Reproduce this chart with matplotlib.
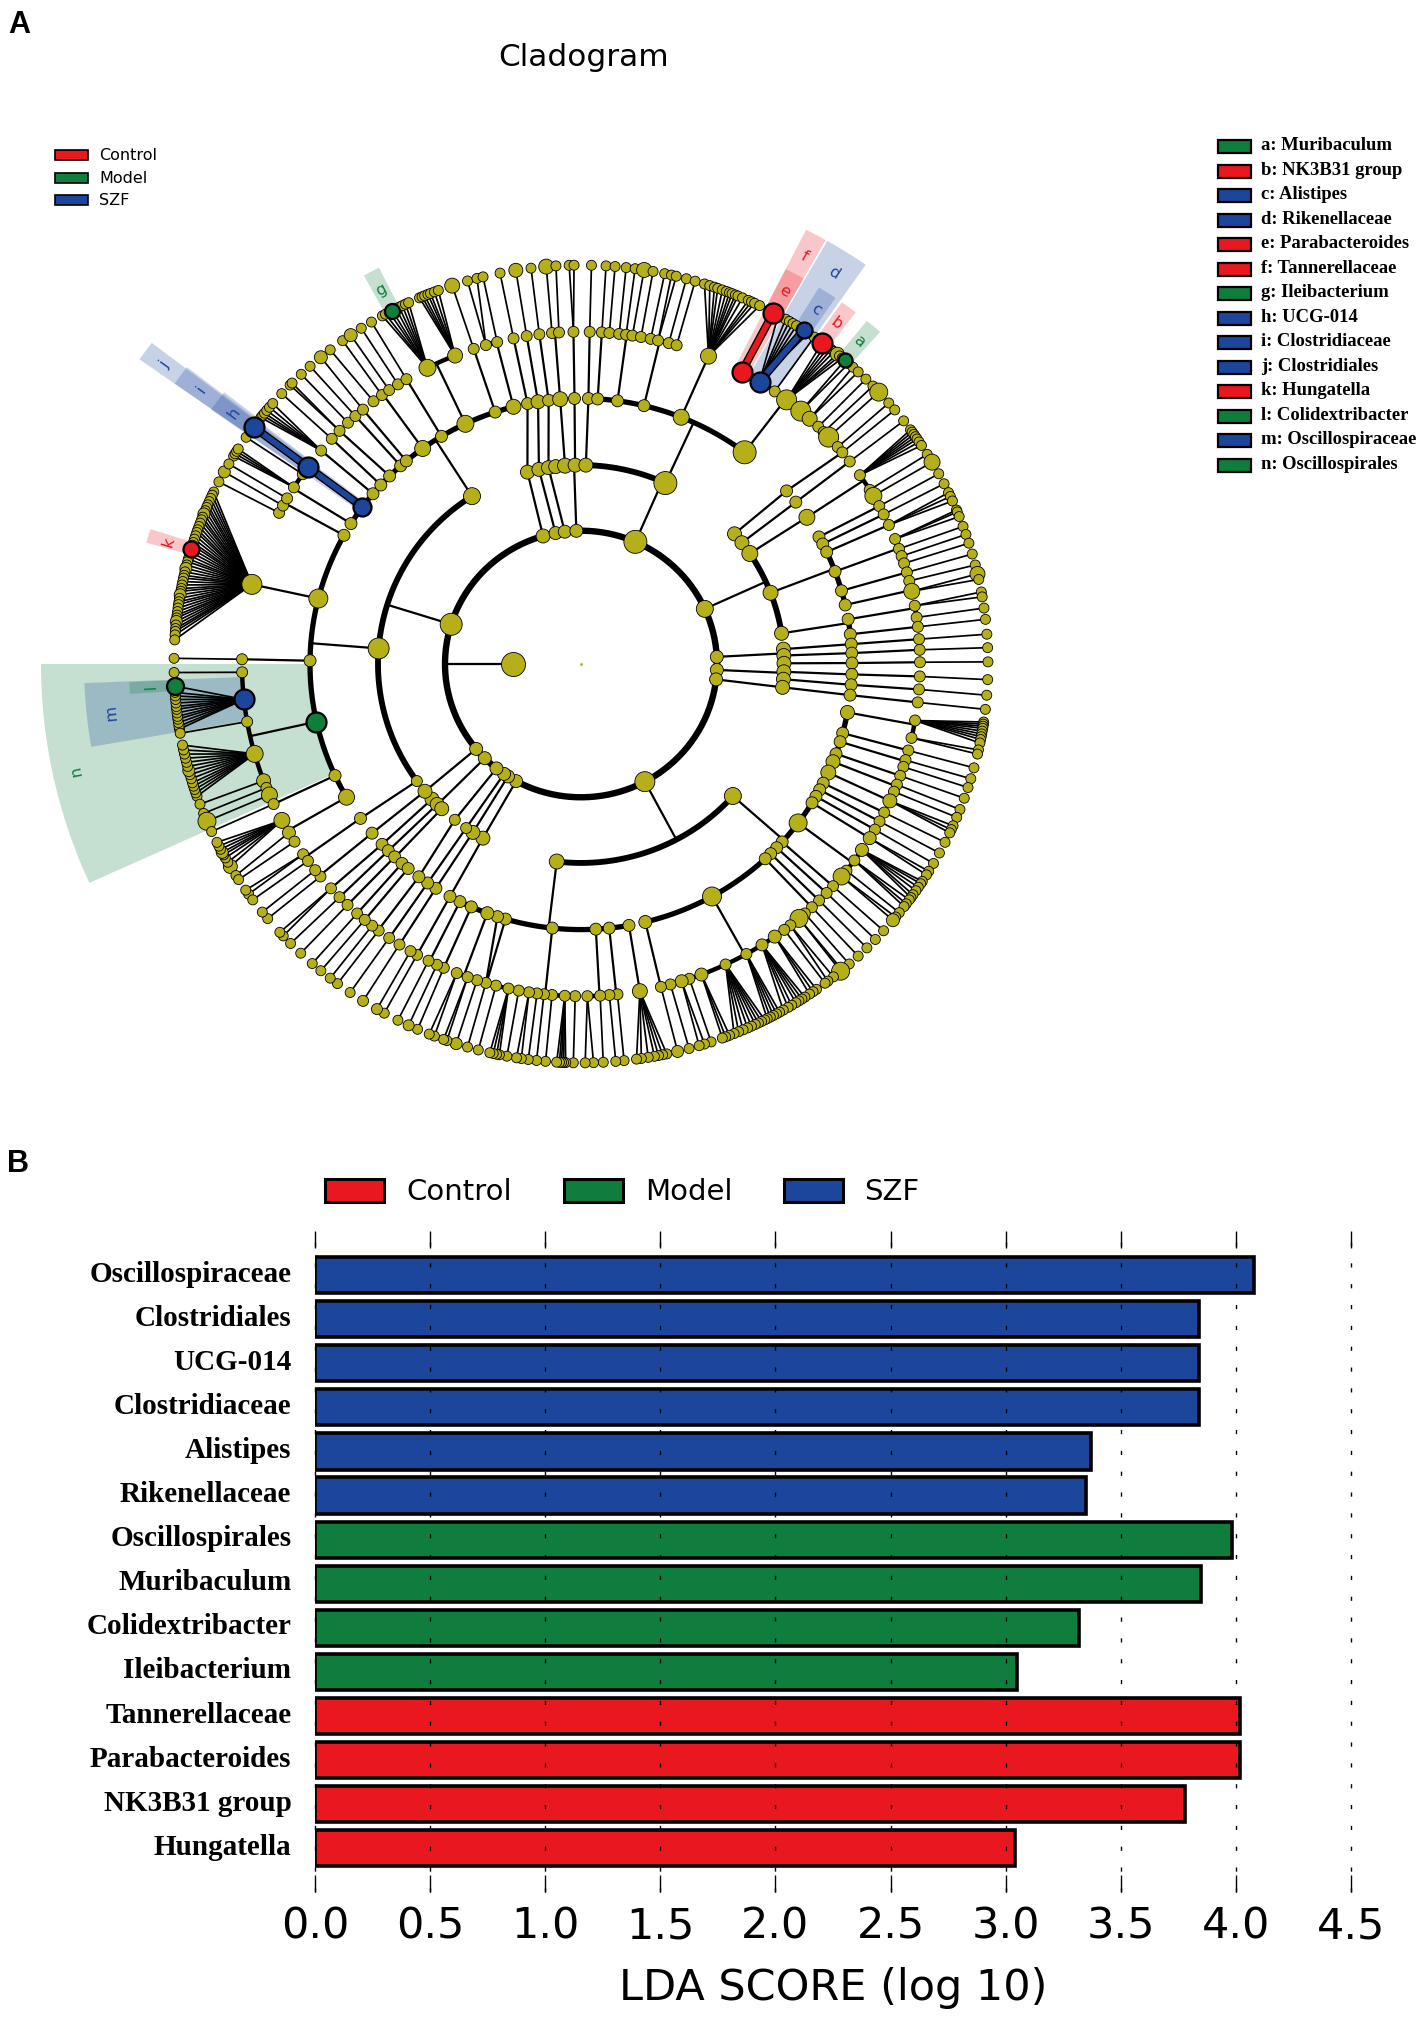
#!/usr/bin/env python3

""" LEfSe cladogram and LDA score bars """

import numpy as np
import matplotlib
matplotlib.use("Agg")
import matplotlib.pyplot as plt
from matplotlib.patches import Rectangle, Wedge

RED = '#E9181E'
GREEN = '#0F7D3C'
BLUE = '#1C469C'
OLIVE = '#B5B01A'

# panel B values
bar_names = ['Oscillospiraceae', 'Clostridiales', 'UCG-014', 'Clostridiaceae', 'Alistipes',
             'Rikenellaceae', 'Oscillospirales', 'Muribaculum', 'Colidextribacter',
             'Ileibacterium', 'Tannerellaceae', 'Parabacteroides', 'NK3B31 group', 'Hungatella']
bar_scores = [4.08, 3.84, 3.84, 3.84, 3.37, 3.35, 3.985, 3.85, 3.32, 3.05, 4.02, 4.02, 3.78, 3.04]
bar_groups = ['SZF'] * 6 + ['Model'] * 4 + ['Control'] * 4
x_ticks = [0.0, 0.5, 1.0, 1.5, 2.0, 2.5, 3.0, 3.5, 4.0, 4.5]

group_names = ['Control', 'Model', 'SZF']
group_colors = {'Control': RED, 'Model': GREEN, 'SZF': BLUE}

clade_labels = ['a: Muribaculum', 'b: NK3B31 group', 'c: Alistipes', 'd: Rikenellaceae',
                'e: Parabacteroides', 'f: Tannerellaceae', 'g: Ileibacterium', 'h: UCG-014',
                'i: Clostridiaceae', 'j: Clostridiales', 'k: Hungatella', 'l: Colidextribacter',
                'm: Oscillospiraceae', 'n: Oscillospirales']
clade_label_colors = [GREEN, RED, BLUE, BLUE, RED, RED, GREEN, BLUE, BLUE, BLUE, RED, GREEN, BLUE, GREEN]

# cladogram: every node is an angle in degrees, children listed by parent angle
l1_nodes = [180]
l2_nodes = [163, 106.5, 101, 97, 92, 66, 24, 3, -2.5, -6.5, -61.5, -119, -123, -125, -129, -135.6, -141]

l3_by_l2 = {
    163: [123, 175.6, -144.5], 106.5: [105.6], 101: [102.2], 97: [99.4], 92: [97.3, 94.6, 91.7],
    66: [88.6, 65], 24: [40.3, 37, 33.2, 20.6, 8.7], 3: [4.2, 2.4, 0.2], -2.5: [-2.2, -4.3],
    -6.5: [-6.6], -61.5: [-41, -97], -119: [-119.4], -123: [-122.7], -125: [-125], -129: [-129],
    -135.6: [-137.8, -135.7, -133.9], -141: [-140.8],
}

l4_by_l3 = {
    123: [148.6, 144.3, 140.7, 138.2, 135.5, 132.3, 130.7, 126.3, 121.5, 115.7, 108.8, 104.7],
    175.6: [151.5, 166, 179.3, -167.7, -155.6, -150.4],
    -144.5: [-145], 105.6: [101.6], 102.2: [99.3], 99.4: [97], 94.6: [94.5], 91.7: [91.4], 88.6: [88.4],
    65: [86.4, 82.1, 76.3, 67.9, 52.3],
    40.3: [40.1], 37: [37], 33.2: [33], 20.6: [28.1, 26.4, 24.5, 20, 15.7, 12.6], 8.7: [9.5, 6.3],
    4.2: [4.2], 2.4: [2.3], 0.2: [0.2], -2.2: [-2.2], -4.3: [-4.4], -6.6: [-6.6],
    -41: [-10.3, -14.8, -16.7, -19.4, -21.2, -23.7, -26.2, -27.8, -29.4, -31, -36.2, -41.5, -43.2,
          -45, -46.6, -60.6, -76],
    -97: [-79.6, -83.9, -86.8, -96.2, -106.5, -108.3, -110.6, -114.3, -117],
    -119.4: [-119.4], -122.7: [-122.9], -125: [-125], -129: [-127.3], -137.8: [-137.8],
    -135.7: [-135.9], -133.9: [-134, -131.9, -130.2], -140.8: [-141],
}

l5_by_l4 = {
    148.6: [148.4, 145.7], 144.3: [144.2], 140.7: [140.6], 138.2: [137.9], 135.5: [136],
    132.3: [134, 132.3], 130.7: [130.6], 126.3: [128.3, 126.5, 125, 123.2], 121.5: [121.5],
    115.7: [117.4, 112.2], 108.8: [108.8], 104.7: [106.6, 104.6],
    151.5: [153.4, 152, 150.6], 166: [166.4], 179.3: [179.2],
    -167.7: [-178.6, -174, -170.2, -164.6, -159.8, -158.5, -157.2], -155.6: [-155.5],
    -150.4: [-152.4, -150, -148.2], -145: [-145.6, -144.2],
    101.6: [101.7], 99.3: [99.4], 97: [97.2], 94.5: [95, 93.8], 91.4: [91.3], 88.4: [88.5],
    86.4: [86.4, 85.1], 82.1: [83.4, 82.2, 81.1, 79.6], 76.3: [77.9, 76.6, 74.7, 73.3], 67.9: [67.5],
    52.3: [61.2, 57.7, 54.6, 52.1, 49, 47, 45, 43.7, 42.5, 40.2],
    40.1: [39], 37: [37], 33: [34.1, 31.1, 29.9], 28.1: [27.9], 26.4: [26.3], 24.5: [24.3],
    20: [21.7, 19.9, 18.6, 17.3], 15.7: [15.7], 12.6: [14.2, 12.4], 9.5: [9.9, 7.9], 6.3: [6.3],
    4.2: [4.2], 2.3: [2.4], 0.2: [0.3], -2.2: [-2.1], -4.4: [-4.3], -6.6: [-6.5],
    -10.3: [-9.6, -12.6], -14.8: [-14.8], -16.7: [-16.5, -17.7], -19.4: [-19.3], -21.2: [-20.9, -22.2],
    -23.7: [-23.9], -26.2: [-26.1], -27.8: [-27.8], -29.4: [-29.4], -31: [-31.1],
    -36.2: [-33.5, -35.7, -37.9, -39.2], -41.5: [-41.4], -43.2: [-43], -45: [-44.8], -46.6: [-46.5],
    -60.6: [-48.1, -49.4, -51.3, -52.6, -54.6, -57.2, -60.3, -64.3, -68.8, -71, -72.4, -74.4],
    -76: [-76.1], -79.6: [-79.8], -83.9: [-83.7, -85.1], -86.8: [-86.7, -88.9],
    -96.2: [-91, -92.8, -95, -96.4, -97.6, -99, -100.8], -106.5: [-102.6, -104.8], -108.3: [-106.6],
    -110.6: [-108.2, -109.9, -111.9], -114.3: [-114.3], -117: [-115.6, -117.2],
    -119.4: [-119.4, -120.7], -122.9: [-122.9], -125: [-125], -127.3: [-127.2, -128.6],
    -137.8: [-138.1], -135.9: [-136], -134: [-134.1], -131.9: [-131.9], -130.2: [-130.2],
    -141: [-140.8, -142.2],
}

l6_by_l5 = {
    148.4: [149.1, 148.7, 148.3, 147.9], 145.7: [145.9], 144.2: [144.1],
    140.6: [142.4, 142, 141.6, 141.1, 140.5, 139.8], 137.9: [137.9], 136: [136.2, 135.8], 134: [134],
    132.3: [132.3], 130.6: [130.3], 128.3: [128.6], 126.5: [126.4], 125: [125], 123.2: [123.2],
    121.5: [121.5], 117.4: [119.7, 119.2, 118.6, 118.1, 117.5, 117, 116.5, 116, 115.5],
    112.2: [113.8, 113.4, 113, 112.5, 112.1, 111.5, 110.9], 108.8: [108.8], 106.6: [106.5, 105.1],
    104.6: [104.2], 153.4: [153.3], 152: [151.7], 150.6: [150.4],
    166.4: [154.9, 155.4, 155.9, 156.4, 156.9, 157.3, 157.8, 158.3, 158.8, 159.2, 159.7, 160.2, 160.7,
            161.1, 161.6, 162.1, 162.6, 163, 163.5, 164, 164.5, 165, 165.4, 165.9, 166.4, 166.9, 167.4,
            167.8, 168.3, 168.8, 169.3, 169.7, 170.2, 170.7, 171.2, 171.6, 172.1, 172.6, 173.1, 173.5,
            174, 174.5, 175, 175.4, 175.9, 176.6],
    179.2: [179.2], -178.6: [-178.8],
    -174: [-170.8, -171.2, -171.7, -172.2, -172.6, -173.1, -173.6, -174, -174.5, -175, -175.5, -176, -176.9],
    -170.2: [-170.2],
    -164.6: [-161, -161.5, -162, -162.5, -163, -163.6, -164.2, -164.8, -165.4, -166, -166.6, -167.2,
             -167.8, -168.5],
    -159.8: [-159.8], -158.5: [-158.4], -157.2: [-157.2], -155.5: [-155.6],
    -152.4: [-150, -150.7, -151.4, -151.9, -152.3, -152.8, -153.3, -153.9], -150: [-148.5],
    -148.2: [-147.8], -145.6: [-145.3, -146], -144.2: [-144.3],
    101.7: [101.7], 99.4: [99.4], 97.2: [97.2], 95: [95], 93.8: [93.6], 91.3: [91.7, 91], 88.5: [88.5],
    86.4: [86.4], 85.1: [85.1], 83.4: [83.5], 82.2: [82.2], 81.1: [80.9], 79.6: [79.6], 77.9: [77.9],
    76.6: [76.9, 76.2], 74.7: [74.7], 73.3: [73.4],
    67.5: [72, 71.2, 70.5, 70, 69.3, 68.7, 68.2, 67.8, 67.3, 66.9, 66.2, 65.3, 64.8, 64.3, 63.5],
    61.2: [61.3], 57.7: [60.5, 59.3, 58.7, 58.1, 57.5, 56.3, 55.5], 54.6: [54.5],
    52.1: [53.1, 52.5, 52, 51.5, 51, 50.4, 50, 49.5], 49: [49, 48.3], 47: [47.5, 46.5], 45: [45],
    43.7: [43.6], 42.5: [42.4], 40.2: [40.3], 39: [39], 37: [37],
    34.1: [35.4, 35, 34.6, 34.2, 33.8, 33.3, 32.7], 31.1: [31.2], 29.9: [29.9], 27.9: [28], 26.3: [26.4],
    24.3: [25, 24.4, 23.7], 21.7: [22.3, 22, 21.3], 19.9: [19.8], 18.6: [18.6], 17.3: [17.3], 15.7: [15.7],
    14.2: [14.1], 12.4: [12.8, 12], 9.9: [10.2, 9.5], 7.9: [7.9], 6.3: [6.3], 4.2: [4.2], 2.4: [2.3],
    0.3: [0.3], -2.1: [-2.2], -4.3: [-4.4], -6.5: [-6.4],
    -9.6: [-8.2, -8.5, -8.8, -9.1, -9.5, -9.9, -10.3, -10.7, -11.2], -12.6: [-12.2, -12.8], -14.8: [-14.8],
    -16.5: [-16.4], -17.7: [-17.7], -19.3: [-19.3], -20.9: [-21], -22.2: [-22.2], -23.9: [-23.5, -24.1, -24.6],
    -26.1: [-26.1], -27.8: [-27.8], -29.4: [-29.5], -31.1: [-30.8, -31.4],
    -33.5: [-32.5, -32.9, -33.5, -34.1, -34.8, -35.3], -35.7: [-35.7, -36.4, -36.9], -37.9: [-38],
    -39.2: [-38.8, -39.4], -41.4: [-41.4], -43: [-43.1], -44.8: [-44.8], -46.5: [-46.5], -48.1: [-48.2],
    -49.4: [-49.5, -49.8], -51.3: [-51.1, -52.1], -52.6: [-52.6], -54.6: [-54.1, -54.7, -55.3],
    -57.2: [-56.1, -56.6, -57.1, -57.6, -58.3, -58.9, -59.7], -60.3: [-60.3, -60.8, -61.3, -61.8, -62.3],
    -64.3: [-62.7, -63.2, -63.7, -64.2, -64.8, -65.4, -66.1, -66.8, -67.5], -68.8: [-68.2, -68.8, -69.3],
    -71: [-71], -72.4: [-72, -72.8], -74.4: [-74.3], -76.1: [-76],
    -79.8: [-77.6, -78.2, -78.8, -79.4, -80.3, -81.3, -82], -83.7: [-83.8], -85.1: [-85], -86.7: [-86.8],
    -88.9: [-88.2, -89.4], -91: [-91.1], -92.8: [-92.2, -92.5, -92.8, -93.1, -93.5], -95: [-95.1],
    -96.4: [-96.4], -97.6: [-97.6], -99: [-98.6, -99.3], -100.8: [-100.7], -102.6: [-101.8, -102.2, -102.7, -103.2],
    -104.8: [-104.9], -106.6: [-106.5], -108.2: [-108.2], -109.9: [-109.6, -110.1], -111.9: [-111.5, -112.3],
    -114.3: [-114.1], -115.6: [-115.5], -117.2: [-117.2], -119.4: [-119.4], -120.7: [-120.6], -122.9: [-122.9],
    -125: [-125.1], -127.2: [-127.3], -128.6: [-128.6], -130.2: [-130.3], -131.9: [-131.9], -134.1: [-134.1],
    -136: [-136.1], -138.1: [-137.6, -138.3], -140.8: [-140.9], -142.2: [-142.1],
}

# node diameters (px) that differ from the level default
level_default_size = {1: 24, 2: 13, 3: 14, 4: 12, 5: 11, 6: 10}
big_nodes = {
    (2, 66): 23, (2, 163): 22, (2, -61.5): 20, (2, 24): 17, (2, 106.5): 14,
    (3, 65): 23, (3, 123): 17, (3, 175.6): 21, (3, -144.5): 11, (3, 94.6): 15, (3, 33.2): 16, (3, 20.6): 15,
    (3, -97): 15, (3, -41): 17, (3, -129): 11, (3, -125): 11,
    (4, 52.3): 23, (4, 67.9): 16, (4, 126.3): 16, (4, 115.7): 17, (4, 104.7): 15, (4, 166): 19, (4, -150.4): 16,
    (4, 33): 16, (4, -36.2): 18, (4, -60.6): 19, (4, -110.6): 13, (4, 94.5): 15, (4, 99.3): 14,
    (4, -10.3): 14, (4, -21.2): 14, (4, -23.7): 15, (4, -76): 13, (4, 148.6): 12,
    (5, 166.4): 20, (5, 117.4): 17, (5, 52.1): 20, (5, 49): 20, (5, 47): 15, (5, 42.5): 20, (5, 29.9): 17,
    (5, 12.4): 16, (5, -23.9): 14, (5, -39.2): 17, (5, -49.4): 18, (5, -33.5): 13, (5, -31.1): 13,
    (5, -54.6): 13, (5, -57.2): 12, (5, 67.5): 16, (5, 112.2): 15, (5, -164.6): 17, (5, -152.4): 16,
    (5, -150): 13, (5, -157.2): 16, (5, -159.8): 14, (5, -68.8): 13, (5, -72.4): 13, (5, -79.8): 15,
    (6, 80.9): 15, (6, 95): 15, (6, 99.4): 14, (6, 108.8): 15, (6, 125): 13, (6, 130.3): 13, (6, -157.2): 18,
    (6, -150): 14, (6, 42.4): 18, (6, 50.4): 14, (6, 29.9): 16, (6, 12.8): 15, (6, -39.4): 13, (6, -49.8): 18,
    (6, -76): 12, (6, 151.7): 12, (6, -108.2): 12, (6, -115.5): 11, (6, -122.9): 11, (6, -120.6): 11,
    (6, 166.4): 12, (6, 158.3): 12, (6, 170.2): 12, (6, 174): 12, (6, -164.8): 12, (6, -152.3): 12,
}

# biomarker clades: (level, angle) -> colour and diameter
marked_nodes = {
    (4, 144.3): (BLUE, 18), (5, 144.2): (BLUE, 20), (6, 144.1): (BLUE, 20),
    (4, -167.7): (GREEN, 20), (5, -174): (BLUE, 20), (6, -176.9): (GREEN, 17),
    (5, 61.2): (RED, 20), (6, 61.3): (RED, 20), (5, 57.7): (BLUE, 20), (6, 56.3): (BLUE, 16),
    (6, 53.1): (RED, 20), (6, 49): (GREEN, 14), (6, 118.1): (GREEN, 15), (6, 163.5): (RED, 16),
}

# shaded sectors: letter, level, angle from, angle to, colour
shade_names = ['n', 'm', 'l', 'j', 'i', 'h', 'k', 'g', 'f', 'e', 'd', 'c', 'b', 'a']
shade_levels = [4, 5, 6, 4, 5, 6, 6, 6, 5, 6, 5, 6, 6, 6]
shade_from = [-180, -177.8, -177.7, 143.2, 143, 142.7, 162.6, 117, 60, 60, 54.5, 55.2, 52, 48]
shade_to = [-156, -170.4, -176.2, 145.4, 145.4, 145.5, 164.4, 119.2, 62.6, 62.6, 59.8, 57.7, 54.2, 50.2]
shade_colors = [GREEN, BLUE, GREEN, BLUE, BLUE, BLUE, RED, GREEN, RED, RED, BLUE, BLUE, RED, GREEN]

ring_r = [0, 68, 136, 203, 271, 339, 407]
shade_outer = {4: 540, 5: 497, 6: 452}
label_r = {4: 517, 5: 472, 6: 431}
arc_lw = {2: 4.6, 3: 4.2, 4: 3.8, 5: 3.2}
Y_SQUASH = 0.98   # the tree is drawn a little flattened


def to_phi(deg):
    # picture angle -> angle on the unflattened circle
    a = np.radians(deg)
    return np.arctan2(np.sin(a) / Y_SQUASH, np.cos(a))


def pos(radius, deg):
    phi = to_phi(deg)
    return radius * np.cos(phi), radius * np.sin(phi)


def connect(ax, level, parent, kids):
    # line from parent to the next ring, arc joining the children
    r0, r1 = ring_r[level - 1], ring_r[level]
    if level == 6:
        for k in kids:
            draw_link(ax, r0, parent, r1, k, 1.25)
        return
    if len(kids) == 1:
        draw_link(ax, r0, parent, r1, kids[0], 1.6)
        return
    x0, y0 = pos(r0, parent)
    x1, y1 = pos(r1, parent)
    ax.plot([x0, x1], [y0, y1], color='k', lw=1.6, zorder=2)
    rel = [((k - parent + 180) % 360) - 180 for k in kids] + [0]
    sweep = parent + np.linspace(min(rel), max(rel), 80)
    xa, ya = pos(r1, sweep)
    ax.plot(xa, ya, color='k', lw=arc_lw[level], solid_capstyle='butt', zorder=2)


def draw_link(ax, r0, a0, r1, a1, lw):
    x0, y0 = pos(r0, a0)
    x1, y1 = pos(r1, a1)
    ax.plot([x0, x1], [y0, y1], color='k', lw=lw, zorder=2)


def thick_link(ax, level, parent, kid, color):
    x0, y0 = pos(ring_r[level - 1], parent)
    x1, y1 = pos(ring_r[level], kid)
    ax.plot([x0, x1], [y0, y1], color='k', lw=6, zorder=3, solid_capstyle='butt')
    ax.plot([x0, x1], [y0, y1], color=color, lw=4, zorder=3.1, solid_capstyle='butt')


def draw_cladogram(ax):
    for name, lev, a0, a1, col in zip(shade_names, shade_levels, shade_from, shade_to, shade_colors):
        t0, t1 = np.degrees(to_phi(a0)), np.degrees(to_phi(a1))
        ro = shade_outer[lev]
        ax.add_patch(Wedge((0, 0), ro, t0, t1, width=ro - ring_r[lev], fc=col, alpha=0.24, lw=0, zorder=0))
        mid = ((a0 + a1) / 2)
        xt, yt = pos(label_r[lev], mid)
        ax.text(xt, yt, name, color=col, fontsize=11.5, rotation=mid - 90, rotation_mode='anchor',
                ha='center', va='center', zorder=1)

    # ring 2 is a closed circle fed from the single ring 1 node
    xa, ya = pos(ring_r[2], np.linspace(0, 360, 400))
    ax.plot(xa, ya, color='k', lw=arc_lw[2], zorder=2)
    draw_link(ax, ring_r[1], l1_nodes[0], ring_r[2], l1_nodes[0], 1.6)

    nodes = {1: l1_nodes, 2: l2_nodes}
    tables = {3: l3_by_l2, 4: l4_by_l3, 5: l5_by_l4, 6: l6_by_l5}
    for level, table in tables.items():
        nodes[level] = []
        for parent, kids in table.items():
            connect(ax, level, parent, kids)
            nodes[level].extend(kids)
            for k in kids:
                pc, kc = marked_nodes.get((level - 1, parent)), marked_nodes.get((level, k))
                if pc and kc and pc[0] == kc[0]:
                    thick_link(ax, level, parent, k, kc[0])

    for level in range(1, 7):
        plain = [a for a in nodes[level] if (level, a) not in marked_nodes]
        xs, ys = pos(ring_r[level], np.array(plain, dtype=float))
        sizes = [big_nodes.get((level, a), level_default_size[level]) for a in plain]
        ax.scatter(xs, ys, s=[(d * 0.72) ** 2 for d in sizes], c=OLIVE, edgecolors='k',
                   linewidths=0.6, zorder=3 + level * 0.1)

    for (level, a), (col, d) in marked_nodes.items():
        x, y = pos(ring_r[level], a)
        ax.scatter([x], [y], s=(d * 0.72) ** 2, c=col, edgecolors='k', linewidths=1.6, zorder=4)

    ax.scatter([0], [0], s=4, c=OLIVE, linewidths=0, zorder=3)


def draw_bars(ax):
    ypos = np.arange(len(bar_names))
    colors = [group_colors[g] for g in bar_groups]
    ax.barh(ypos, bar_scores, height=0.82, color=colors, edgecolor='k', linewidth=2.6, zorder=1)
    ax.set_xlim(0, 4.5)
    ax.set_ylim(13.99, -0.998)
    # names sit a little above the bar centres
    ax.set_yticks(ypos - 0.09)
    ax.set_yticklabels(bar_names, fontsize=21, family='Liberation Serif', fontweight='bold')
    ax.set_xticks(x_ticks)
    ax.set_xticklabels(['%.1f' % t for t in x_ticks], fontsize=31)
    ax.tick_params(axis='y', length=0, pad=17)
    ax.tick_params(axis='x', direction='in', length=12, width=1, top=True, pad=10)
    for s in ax.spines.values():
        s.set_visible(False)
    ax.set_axisbelow(False)
    ax.grid(axis='x', color='k', lw=1, linestyle=(0, (3, 12)))
    ax.grid(axis='y', visible=False)
    for line in ax.get_xgridlines():
        line.set_clip_on(False)
    ax.set_xlabel('LDA SCORE (log 10)', fontsize=31, labelpad=14)


def draw_overlay(ov):
    ov.set_xlim(0, 1425)
    ov.set_ylim(2017, 0)
    ov.axis('off')
    ov.text(8, 25, 'A', fontsize=22, fontweight='bold', family='Liberation Sans', va='center')
    ov.text(7, 1164, 'B', fontsize=22, fontweight='bold', family='Liberation Sans', va='center')
    ov.text(584, 57, 'Cladogram', fontsize=22.4, ha='center', va='center')

    for name, y in zip(group_names, [155, 178, 200]):
        ov.add_patch(Rectangle((55, y - 5), 33, 10, fc=group_colors[name], ec='k', lw=1.2))
        ov.text(99, y, name, fontsize=11.5, va='center')

    for name, x0, xt in zip(group_names, [325, 564, 784], [406, 645, 864]):
        ov.add_patch(Rectangle((x0, 1179), 59, 23, fc=group_colors[name], ec='k', lw=2.2))
        ov.text(xt, 1192, name, fontsize=21, va='center')

    for i, (label, col) in enumerate(zip(clade_labels, clade_label_colors)):
        y = 146.5 + i * 24.5
        ov.add_patch(Rectangle((1218, y - 6.5), 33, 13, fc=col, ec='k', lw=1.6))
        ov.text(1261, y - 1, label, fontsize=13.4, family='Liberation Serif', fontweight='bold', va='center')


def main():
    fig = plt.figure(figsize=(14.25, 20.17), dpi=100)

    # tree axes: one data unit is one pixel across, centre of the tree at px (581, 664)
    ax_tree = fig.add_axes([0, 1 - 1150 / 2017, 1, 1150 / 2017])
    ax_tree.set_xlim(-581, 844)
    ax_tree.set_ylim(-(1150 - 664) / Y_SQUASH, 664 / Y_SQUASH)
    ax_tree.axis('off')
    draw_cladogram(ax_tree)

    ax_bar = fig.add_axes([315 / 1425, 1 - 1892 / 2017, (1351 - 315) / 1425, (1892 - 1231) / 2017])
    draw_bars(ax_bar)

    ov = fig.add_axes([0, 0, 1, 1], facecolor='none')
    draw_overlay(ov)

    fig.savefig('out.png', dpi=100)


if __name__ == "__main__":
    main()
